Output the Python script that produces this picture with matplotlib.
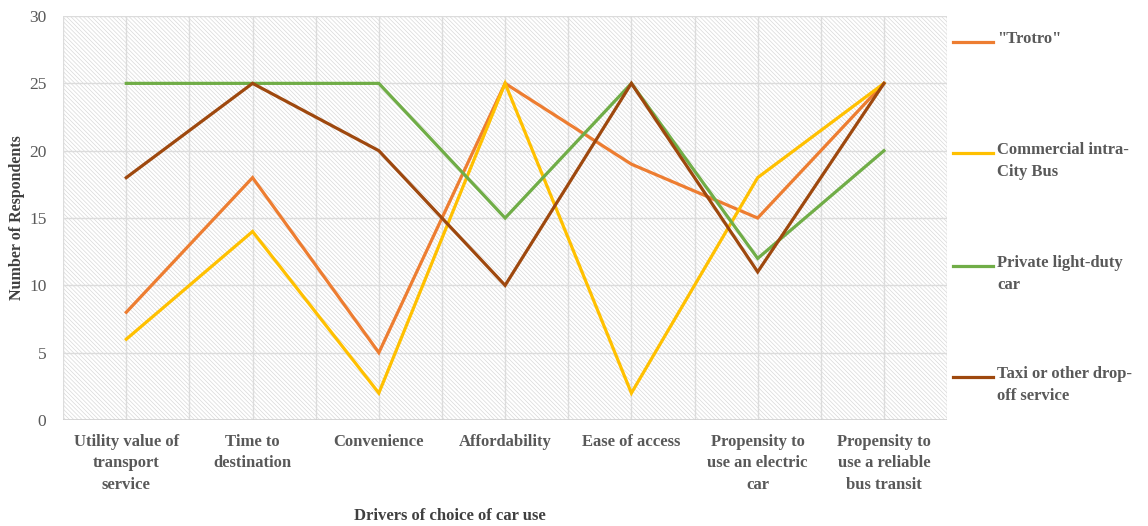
import matplotlib.pyplot as plt
from matplotlib.patches import Rectangle
from matplotlib.lines import Line2D
import numpy as np

plt.rcParams['font.family'] = ['Liberation Serif', 'DejaVu Serif']
plt.rcParams['hatch.linewidth'] = 0.5
plt.rcParams['hatch.color'] = '#d9d9d9'

categories = ['Utility value of\ntransport\nservice', 'Time to\ndestination',
              'Convenience', 'Affordability', 'Ease of access',
              'Propensity to\nuse an electric\ncar', 'Propensity to\nuse a reliable\nbus transit']
trotro = [8, 18, 5, 25, 19, 15, 25]
city_bus = [6, 14, 2, 25, 2, 18, 25]
private_car = [25, 25, 25, 15, 25, 12, 20]
taxi = [18, 25, 20, 10, 25, 11, 25]

series = [('"Trotro"', trotro, '#ed7d31'),
          ('Commercial intra-\nCity Bus', city_bus, '#ffc000'),
          ('Private light-duty\ncar', private_car, '#70ad47'),
          ('Taxi or other drop-\noff service', taxi, '#9e480e')]

fig = plt.figure(figsize=(11.48, 5.26), dpi=100)
ax = fig.add_axes([0.055, 0.2015, 0.77, 0.768])

x = np.arange(len(categories))
ax.set_xlim(-0.5, len(categories) - 0.5)
ax.set_ylim(0, 30)

# hatched plot area
ax.add_patch(Rectangle((0, 0), 1, 1, transform=ax.transAxes, facecolor='white',
                       edgecolor='#d9d9d9', hatch='\\' * 8, lw=0, zorder=0))

grid_c = '#dcdcdc'
for v in np.arange(-0.5, len(categories), 0.5):
    ax.axvline(v, color=grid_c, lw=1, zorder=1)
for v in range(5, 31, 5):
    ax.axhline(v, color=grid_c, lw=1, zorder=1)

for name, vals, col in series:
    ax.plot(x, vals, color=col, lw=2.3, zorder=3, solid_joinstyle='miter')

for s in ax.spines.values():
    s.set_visible(False)
ax.axhline(0, color='#d0d0d0', lw=1.2, zorder=2)

ax.set_yticks(range(0, 31, 5))
ax.tick_params(axis='y', length=0, labelsize=12.5, labelcolor='#595959', pad=12)
ax.set_xticks(x)
ax.set_xticklabels(categories, fontweight='bold', fontsize=12, color='#595959', linespacing=1.45)
ax.tick_params(axis='x', length=0, pad=10)

ax.set_ylabel('Number of Respondents', fontweight='bold', fontsize=11.5, color='#404040')
ax.yaxis.set_label_coords(-0.043, 0.5)
fig.text(0.392, 0.004, 'Drivers of choice of car use', fontweight='bold', fontsize=12,
         color='#404040', ha='center', va='bottom')

# legend on the right, one entry per band
leg_y = [42, 153, 266, 377]
for (name, vals, col), yy in zip(series, leg_y):
    yf = 1 - yy / 526
    fig.add_artist(Line2D([953 / 1148, 993 / 1148], [yf, yf], color=col, lw=2.3))
    fig.text(997 / 1148, yf + 0.02, name, fontweight='bold', fontsize=12, color='#595959',
             ha='left', va='top', linespacing=1.5)

fig.savefig('out.png', dpi=100)
